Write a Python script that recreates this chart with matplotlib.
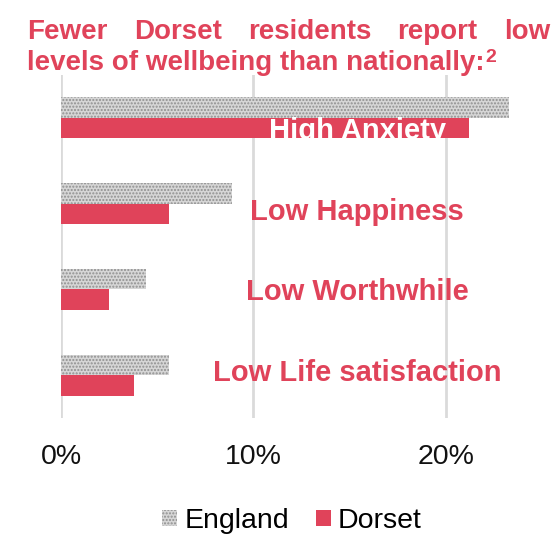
import matplotlib
matplotlib.use("Agg")
import matplotlib.pyplot as plt
from matplotlib.patches import Patch

plt.rcParams['font.family'] = ['Liberation Sans', 'DejaVu Sans']
plt.rcParams['hatch.linewidth'] = 1.0

categories = ["High Anxiety", "Low Happiness", "Low Worthwhile", "Low Life satisfaction"]
england = [23.3, 8.9, 4.4, 5.6]
dorset = [21.2, 5.6, 2.5, 3.8]
xticks = [0, 10, 20]
xticklabels = ["0%", "10%", "20%"]
series_names = ["England", "Dorset"]
title_line1 = ["Fewer", "Dorset", "residents", "report", "low"]
title_line2 = "levels of wellbeing than nationally:"
title_sup = "2"

RED = "#E0435A"
GREY_FACE = "#d6d6d6"
GREY_HATCH = "#8f8f8f"

W, H = 556, 536
fig = plt.figure(figsize=(W / 100, H / 100), dpi=100)
ax = fig.add_axes([61 / W, 1 - 418 / H, (542 - 61) / W, (418 - 75) / H])

bh = 0.24
ypos = list(range(len(categories)))
ax.barh([y - bh / 2 for y in ypos], england, height=bh, color=GREY_FACE,
        edgecolor=GREY_HATCH, hatch='.....', linewidth=0, zorder=2)
ax.barh([y + bh / 2 for y in ypos], dorset, height=bh, color=RED,
        linewidth=0, zorder=3)

ax.set_xlim(0, 25)
ax.set_ylim(len(categories) - 0.5, -0.5)
ax.set_yticks([])
ax.set_xticks(xticks)
ax.set_xticklabels(xticklabels, fontsize=20.5, color="#111111")
ax.tick_params(axis='x', length=0, pad=19)
for s in ax.spines.values():
    s.set_visible(False)
ax.grid(axis='x', color='#dadada', linewidth=2, zorder=0)
ax.set_axisbelow(True)

# category labels (baseline offsets from category centre)
label_offsets = [0.245, 0.187, 0.128, 0.07]
label_colors = ["white", RED, RED, RED]
for y, name, off, c in zip(ypos, categories, label_offsets, label_colors):
    ax.text(15.4, y + off, name, ha='center', va='baseline', fontsize=21,
            fontweight='bold', color=c, zorder=4, clip_on=False)

# title, justified first line
fig.canvas.draw()
r = fig.canvas.get_renderer()
tsize = 20
left_px, right_px = 27, 550
texts = []
widths = []
for w in title_line1:
    t = fig.text(0, 0, w, fontsize=tsize, fontweight='bold', color=RED, va='baseline', ha='left')
    texts.append(t)
    widths.append(t.get_window_extent(r).width)
gap = (right_px - left_px - sum(widths)) / (len(widths) - 1)
x = left_px
for t, wd in zip(texts, widths):
    t.set_position((x / W, 1 - 39 / H))
    x += wd + gap

t2 = fig.text(left_px / W, 1 - 70 / H, title_line2, fontsize=tsize, fontweight='bold',
              color=RED, va='baseline', ha='left')
ext = t2.get_window_extent(r)
fig.text((ext.x1 + 1) / W, 1 - 62 / H, title_sup, fontsize=14, fontweight='bold',
         color=RED, va='baseline', ha='left')

handles = [Patch(facecolor=GREY_FACE, edgecolor=GREY_HATCH, hatch='.....', linewidth=0),
           Patch(facecolor=RED, linewidth=0)]
fig.legend(handles, series_names, loc='center', bbox_to_anchor=(292 / W, 1 - 521 / H),
           ncol=2, frameon=False, fontsize=20.5, handlelength=0.52, handleheight=0.52,
           handletextpad=0.25, columnspacing=0.95, borderpad=0)

fig.savefig("out.png", dpi=100)
